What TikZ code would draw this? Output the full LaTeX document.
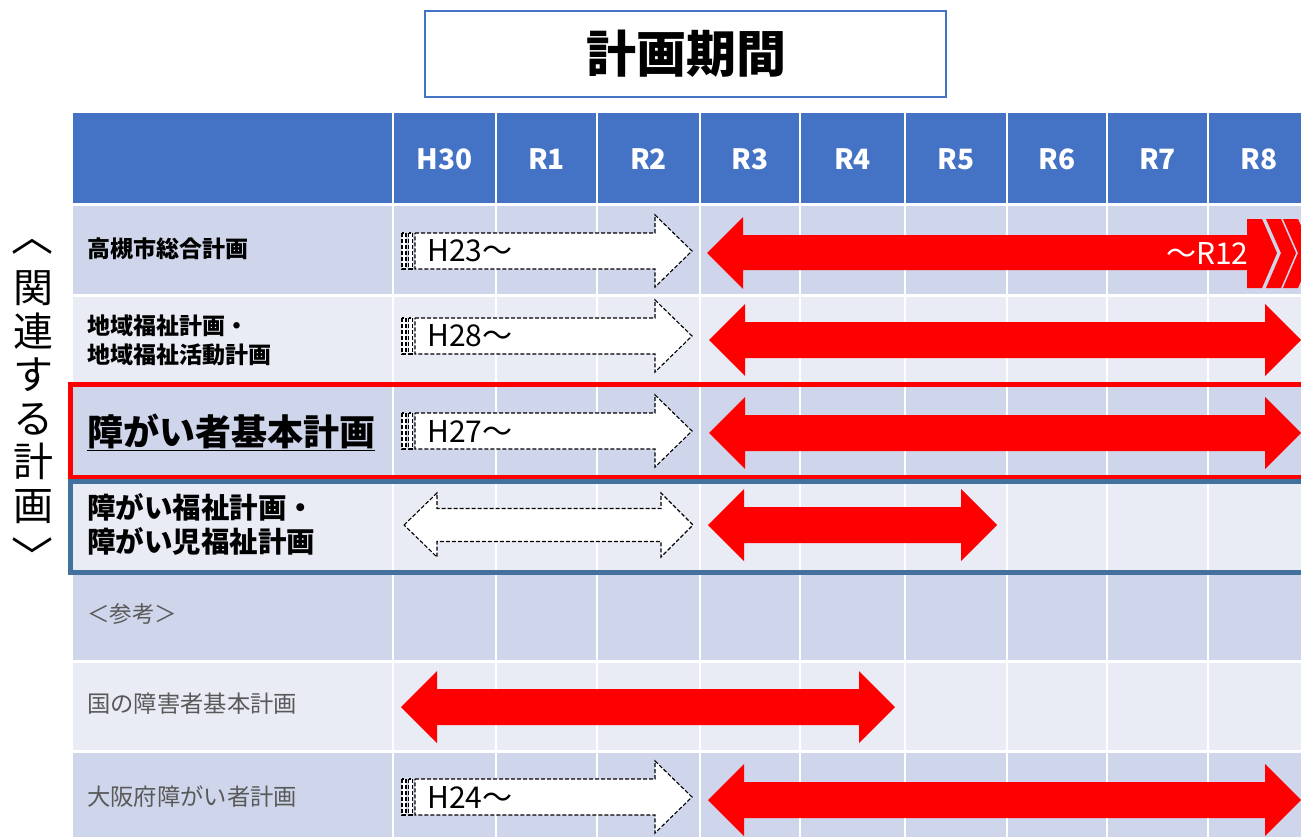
\documentclass[tikz,border=0pt]{standalone}
\usepackage{fontspec}
\setmainfont{Noto Sans CJK JP}
\definecolor{hdr}{HTML}{4472C4}
\definecolor{rowA}{HTML}{CFD5EA}
\definecolor{rowB}{HTML}{E9EBF5}
\definecolor{frameblue}{HTML}{41719C}
\definecolor{gtext}{HTML}{595959}
\definecolor{arrred}{HTML}{FF0000}
\newcommand\RedDbl[3]{\fill[arrred] (#1,#3) -- ({#1+36},{#3-36}) -- ({#1+36},{#3-18}) -- ({#2-36},{#3-18}) -- ({#2-36},{#3-36}) -- (#2,#3) -- ({#2-36},{#3+36}) -- ({#2-36},{#3+18}) -- ({#1+36},{#3+18}) -- ({#1+36},{#3+36}) -- cycle;}
\newcommand\DashR[3]{%
\filldraw[dasharrow] ({#1+13},{#3-18}) -- ({#2-37},{#3-18}) -- ({#2-37},{#3-36}) -- (#2,#3) -- ({#2-37},{#3+36}) -- ({#2-37},{#3+18}) -- ({#1+13},{#3+18}) -- cycle;
\filldraw[dasharrow] (#1,{#3-18}) rectangle ({#1+4},{#3+18});
\filldraw[dasharrow] ({#1+6.5},{#3-18}) rectangle ({#1+10.5},{#3+18});}
\begin{document}
\begin{tikzpicture}[x=1pt,y=-1pt,
  dasharrow/.style={draw=black,fill=white,dash pattern=on 4pt off 2pt,line width=1.1pt},
  hdrtxt/.style={text=white,font=\bfseries\fontsize{28}{30}\selectfont,inner sep=0pt},
  rowlbl/.style={anchor=west,inner sep=0pt,align=left},
  arrlbl/.style={anchor=west,inner sep=0pt,font=\fontsize{30}{32}\selectfont},
  grid/.style={white,line width=2.5pt}]
\useasboundingbox (0,0) rectangle (1301,836);
\clip (0,0) rectangle (1301,836);
% title
\draw[hdr,line width=2.5pt,fill=white] (425,11) rectangle (946,97);
\node[inner sep=0pt,font=\bfseries\fontsize{50}{54}\selectfont] (title) at (686,54) {計画期間};
% table backgrounds
\fill[hdr] (73,113) rectangle (1320,204);
\fill[rowA] (73,204) rectangle (1320,295);
\fill[rowB] (73,295) rectangle (1320,384);
\fill[rowA] (73,384) rectangle (1320,477);
\fill[rowB] (73,477) rectangle (1320,572);
\fill[rowA] (73,572) rectangle (1320,661);
\fill[rowB] (73,661) rectangle (1320,751);
\fill[rowA] (73,751) rectangle (1320,840);
% grid
\foreach \x in {393,496,597,700,800,905,1007,1107,1208}{\draw[grid] (\x,113) -- (\x,840);}
\foreach \y in {204,295,384,477,572,661,751}{\draw[grid,line width=3pt] (73,\y) -- (1320,\y);}
% frames
\draw[frameblue,line width=4.5pt] (70.5,481.5) rectangle (1330,572.5);
\draw[arrred,line width=4.5pt] (70.5,384.5) rectangle (1330,477);
% header
\node[hdrtxt] (h1) at (444.5,159) {H30};
\node[hdrtxt] (h2) at (546.5,159) {R1};
\node[hdrtxt] (h3) at (648.5,159) {R2};
\node[hdrtxt] (h4) at (750,159) {R3};
\node[hdrtxt] (h5) at (852.5,159) {R4};
\node[hdrtxt] (h6) at (956,159) {R5};
\node[hdrtxt] (h7) at (1057,159) {R6};
\node[hdrtxt] (h8) at (1157.5,159) {R7};
\node[hdrtxt] (h9) at (1259,159) {R8};
% row labels
\node[rowlbl,font=\bfseries\fontsize{23}{29}\selectfont] (l1) at (87,249) {高槻市総合計画};
\node[rowlbl,font=\bfseries\fontsize{23}{29}\selectfont] (l2) at (87,340) {地域福祉計画・\\地域福祉活動計画};
\node[rowlbl,font=\bfseries\fontsize{36}{40}\selectfont] (l3) at (87,432) {\underline{障がい者基本計画}};
\node[rowlbl,font=\bfseries\fontsize{28.5}{34}\selectfont] (l4) at (87,524) {障がい福祉計画・\\障がい児福祉計画};
\node[rowlbl,text=gtext,font=\fontsize{22.5}{26}\selectfont] (l5) at (87,614) {＜参考＞};
\node[rowlbl,text=gtext,font=\fontsize{23.3}{26}\selectfont] (l6) at (87,704) {国の障害者基本計画};
\node[rowlbl,text=gtext,font=\fontsize{23.3}{26}\selectfont] (l7) at (87,797) {大阪府障がい者計画};
% vertical side label
\node[inner sep=0pt,font=\fontsize{42}{44}\selectfont] (bo) at (33,247) {︿};
\node[inner sep=0pt,align=center,font=\fontsize{40}{43.5}\selectfont] (side) at (33,397) {関\\連\\す\\る\\計\\画};
\node[inner sep=0pt,font=\fontsize{42}{44}\selectfont] (bc) at (33,555) {﹀};
% dashed arrows
\DashR{402}{692}{251}
\DashR{402}{692}{336}
\DashR{402}{692}{431}
\DashR{402}{692}{797}
\filldraw[dasharrow] (404,525) -- (437,493) -- (437,508.5) -- (661,508.5) -- (661,493) -- (693,525) -- (661,557) -- (661,541.5) -- (437,541.5) -- (437,557) -- cycle;
\node[arrlbl] (a1) at (427,251) {H23～};
\node[arrlbl] (a2) at (427,336) {H28～};
\node[arrlbl] (a3) at (427,431) {H27～};
\node[arrlbl] (a7) at (427,797) {H24～};
% red arrows
\fill[arrred] (707,253) -- (743,217) -- (743,235) -- (1247,235) -- (1247,219) -- (1262,219) -- (1277,253) -- (1262,288) -- (1247,288) -- (1247,270) -- (743,270) -- (743,289) -- cycle;
\fill[arrred] (1266,219) -- (1281,219) -- (1296,253) -- (1281,288) -- (1266,288) -- (1281,253) -- cycle;
\fill[arrred] (1283,219) -- (1298,219) -- (1313,253) -- (1298,288) -- (1283,288) -- (1298,253) -- cycle;
\node[arrlbl,text=white] (r12) at (1166,253) {～R12};
\RedDbl{709}{1301}{340}
\RedDbl{709}{1301}{433}
\RedDbl{708}{997}{525}
\RedDbl{401}{895}{707}
\RedDbl{708}{1301}{800}
\end{tikzpicture}
\end{document}
